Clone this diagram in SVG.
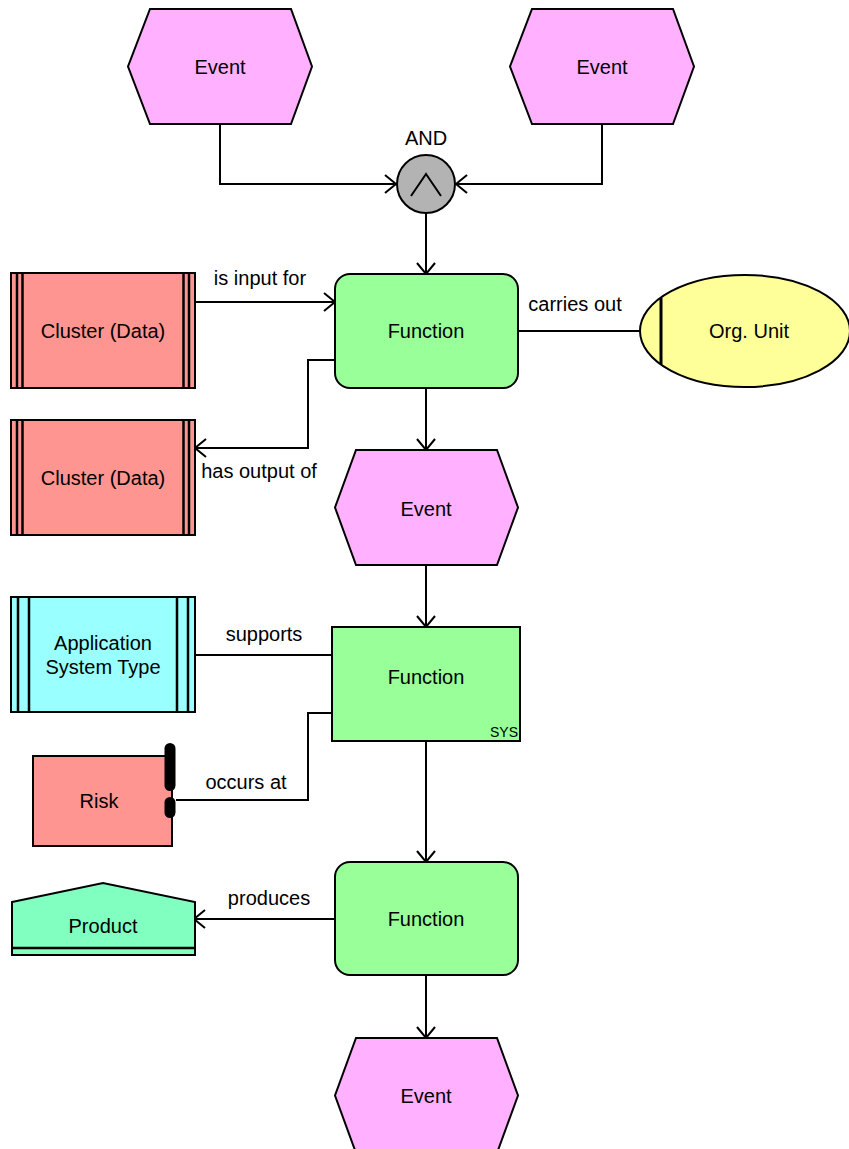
<svg xmlns="http://www.w3.org/2000/svg" width="849" height="1149" viewBox="0 0 849 1149">
<style>
text{font-family:"Liberation Sans",Arial,sans-serif;font-size:20px;fill:#000;text-anchor:middle;dominant-baseline:central}
.s{stroke:#000;stroke-width:2}
.ev{fill:#FFB0FF}
.fn{fill:#99FF99}
.cl{fill:#FF9590}
.c{fill:none;stroke:#000;stroke-width:2}
</style>
<defs>
<marker id="a" markerUnits="userSpaceOnUse" markerWidth="14" markerHeight="20" viewBox="0 0 14 20" refX="12" refY="10" orient="auto">
<path d="M1,1 L12,10 L1,19" fill="none" stroke="#000" stroke-width="2"/>
</marker>
</defs>
<g id="connectors">
<path class="c" d="M220,124 V184 H396" marker-end="url(#a)"/>
<path class="c" d="M602,124 V184 H456" marker-end="url(#a)"/>
<path class="c" d="M426,213 V274" marker-end="url(#a)"/>
<path class="c" d="M195,302 H335" marker-end="url(#a)"/>
<text x="260" y="278">is input for</text>
<path class="c" d="M335,360 H308 V448 H195" marker-end="url(#a)"/>
<text x="259" y="471">has output of</text>
<path class="c" d="M518,331 H640"/>
<text x="575" y="304">carries out</text>
<path class="c" d="M426,388 V450" marker-end="url(#a)"/>
<path class="c" d="M426,565 V627" marker-end="url(#a)"/>
<path class="c" d="M195,655 H332"/>
<text x="264" y="634">supports</text>
<path class="c" d="M332,713 H308 V800 H176"/>
<text x="246" y="782">occurs at</text>
<path class="c" d="M426,741 V862" marker-end="url(#a)"/>
<path class="c" d="M335,919 H194" marker-end="url(#a)"/>
<text x="269" y="898">produces</text>
<path class="c" d="M426,975 V1038" marker-end="url(#a)"/>
</g>
<g id="event1">
<polygon class="s ev" points="150,9 291,9 312,66.5 291,124 150,124 128,66.5"/>
<text x="220" y="67">Event</text>
</g>
<g id="event2">
<polygon class="s ev" points="532,9 673,9 694,66.5 673,124 532,124 510,66.5"/>
<text x="602" y="67">Event</text>
</g>
<g id="and">
<text x="426" y="138">AND</text>
<circle cx="426" cy="184" r="29" fill="#B3B3B3" class="s"/>
<path d="M411,196 L426,174 L441,196" fill="none" stroke="#000" stroke-width="2"/>
</g>
<g id="function1">
<rect x="335" y="274" width="183" height="114" rx="15" class="s fn"/>
<text x="426" y="331">Function</text>
</g>
<g id="cluster1">
<rect x="11" y="273" width="184" height="115" class="s cl"/>
<path d="M17,273 V388 M22.5,273 V388 M183.5,273 V388 M189,273 V388" stroke="#000" stroke-width="2.5"/>
<text x="103" y="331">Cluster (Data)</text>
</g>
<g id="cluster2">
<rect x="11" y="420" width="184" height="115" class="s cl"/>
<path d="M17,420 V535 M22.5,420 V535 M183.5,420 V535 M189,420 V535" stroke="#000" stroke-width="2.5"/>
<text x="103" y="478">Cluster (Data)</text>
</g>
<g id="orgunit">
<ellipse cx="745" cy="331" rx="105" ry="56" fill="#FFFF99" class="s"/>
<line x1="661" y1="298" x2="661" y2="364" stroke="#000" stroke-width="3"/>
<text x="749" y="331">Org. Unit</text>
</g>
<g id="event3">
<polygon class="s ev" points="356,450 497,450 518,507.5 497,565 356,565 335,507.5"/>
<text x="426" y="509">Event</text>
</g>
<g id="function2">
<rect x="332" y="627" width="188" height="114" class="s fn"/>
<text x="426" y="677">Function</text>
<text x="518" y="732" style="font-size:14px;text-anchor:end">SYS</text>
</g>
<g id="appsystem">
<rect x="11" y="597" width="184" height="115" fill="#99FFFF" class="s"/>
<path d="M18,597 V712 M29,597 V712 M177,597 V712 M188,597 V712" stroke="#000" stroke-width="2.5"/>
<text x="103" y="643">Application</text>
<text x="103" y="667">System Type</text>
</g>
<g id="risk">
<rect x="33" y="756" width="139" height="90" class="s" fill="#FF9590"/>
<rect x="164.5" y="743" width="11" height="48" rx="5.5" fill="#000"/>
<rect x="164.5" y="797" width="11" height="21" rx="5.5" fill="#000"/>
<text x="99" y="801">Risk</text>
</g>
<g id="function3">
<rect x="335" y="862" width="183" height="113" rx="15" class="s fn"/>
<text x="426" y="919">Function</text>
</g>
<g id="product">
<polygon points="12,902 103,883 195,902 195,955 12,955" fill="#80FFC0" class="s"/>
<line x1="12" y1="948" x2="195" y2="948" stroke="#000" stroke-width="2.5"/>
<text x="103" y="926">Product</text>
</g>
<g id="event4">
<polygon class="s ev" points="356,1038 497,1038 518,1095.5 497,1153 356,1153 335,1095.5"/>
<text x="426" y="1096">Event</text>
</g>
</svg>
